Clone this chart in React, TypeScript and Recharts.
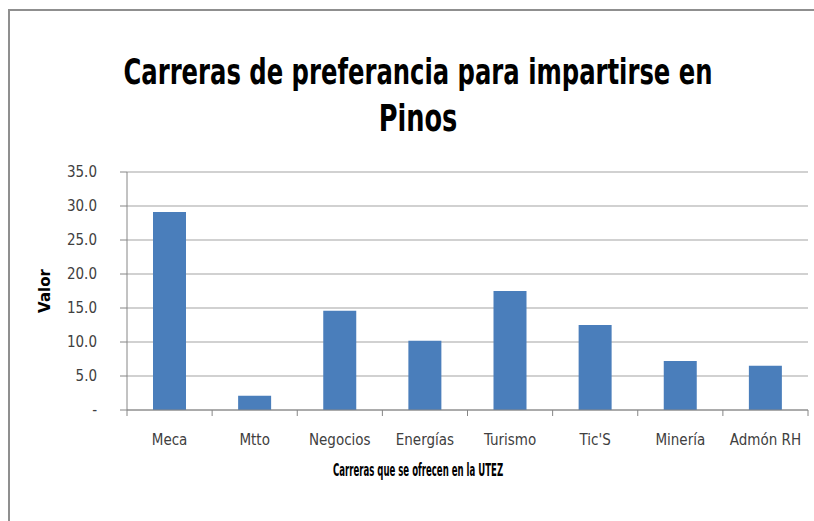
import { BarChart, Bar, XAxis, YAxis, CartesianGrid } from 'recharts'

const categories = ['Meca', 'Mtto', 'Negocios', 'Energías', 'Turismo', "Tic'S", 'Minería', 'Admón RH']
const valores = [29.1, 2.1, 14.6, 10.2, 17.5, 12.5, 7.2, 6.5]
const yTicks = [0, 5, 10, 15, 20, 25, 30, 35]

const data = categories.map((c, i) => ({ carrera: c, valor: valores[i] }))

const W = 814
const H = 521
const Y_AXIS_W = 127
const RIGHT = 6
const PLOT_W = W - Y_AXIS_W - RIGHT
const FONT = '"Liberation Sans Narrow", "DejaVu Sans Condensed", "Open Sans", sans-serif'

// ticks sit between categories, like the Excel original
const XTick = (props: any) => {
  const { x, y, payload, index } = props
  const step = PLOT_W / categories.length
  return (
    <g>
      {index === 0 && <line x1={x - step / 2} y1={y} x2={x - step / 2} y2={y + 6} stroke="#868686" />}
      <line x1={x + step / 2} y1={y} x2={x + step / 2} y2={y + 6} stroke="#868686" />
      <text x={x} y={y + 35} textAnchor="middle" fontSize={15} fill="#404040" fontFamily={FONT}>
        {payload.value}
      </text>
    </g>
  )
}

const fmt = (v: number) => (v === 0 ? '-' : v.toFixed(1))

const App = () => {
  return (
    <div style={{ position: 'absolute', left: 0, top: 0, width: W, height: H, background: '#fff', overflow: 'hidden' }}>
      <div
        style={{
          position: 'absolute',
          left: 8,
          top: 9,
          width: W,
          height: H,
          borderLeft: '2px solid #8f8f8f',
          borderTop: '2px solid #8f8f8f'
        }}
      />
      <svg width={W} height={150} style={{ position: 'absolute', left: 0, top: 0 }}>
        <g transform="translate(418 84) scale(0.75 1)">
          <text x={0} y={0} textAnchor="middle" fontSize={36} fontWeight="bold" fontFamily={FONT} fill="#000">
            Carreras de preferancia para impartirse en
          </text>
        </g>
        <g transform="translate(418 131) scale(0.77 1)">
          <text x={0} y={0} textAnchor="middle" fontSize={37} fontWeight="bold" fontFamily={FONT} fill="#000">
            Pinos
          </text>
        </g>
      </svg>
      <div style={{ position: 'absolute', left: 0, top: 0 }}>
        <BarChart width={W} height={H} data={data} margin={{ top: 172, right: RIGHT, bottom: 0, left: 0 }}>
          <CartesianGrid vertical={false} stroke="#a3a3a3" />
          <YAxis
            width={Y_AXIS_W}
            domain={[0, 35]}
            ticks={yTicks}
            tickFormatter={fmt}
            interval={0}
            axisLine={{ stroke: '#868686' }}
            tickLine={{ stroke: '#868686' }}
            tickSize={7}
            tickMargin={23}
            tick={{ fontSize: 15, fill: '#404040', fontFamily: FONT }}
            label={{
              content: ({ viewBox }: any) => (
                <text
                  x={45}
                  y={viewBox.y + viewBox.height / 2}
                  transform={`rotate(-90 45 ${viewBox.y + viewBox.height / 2})`}
                  textAnchor="middle"
                  dominantBaseline="central"
                  fontSize={15}
                  fontWeight="bold"
                  fill="#000"
                  fontFamily='"DejaVu Sans", sans-serif'
                >
                  Valor
                </text>
              )
            }}
          />
          <XAxis
            dataKey="carrera"
            height={111}
            interval={0}
            axisLine={{ stroke: '#868686' }}
            tickLine={false}
            tickSize={0}
            tickMargin={0}
            tick={<XTick />}
          />
          <Bar dataKey="valor" fill="#4a7ebb" barSize={33} isAnimationActive={false} />
        </BarChart>
      </div>
      <svg width={W} height={40} style={{ position: 'absolute', left: 0, top: 455 }}>
        <g transform="translate(418 21) scale(0.56 1)">
          <text x={0} y={0} textAnchor="middle" fontSize={17} fontWeight="bold" fontFamily={FONT} fill="#000">
            Carreras que se ofrecen en la UTEZ
          </text>
        </g>
      </svg>
    </div>
  )
}

export default App
